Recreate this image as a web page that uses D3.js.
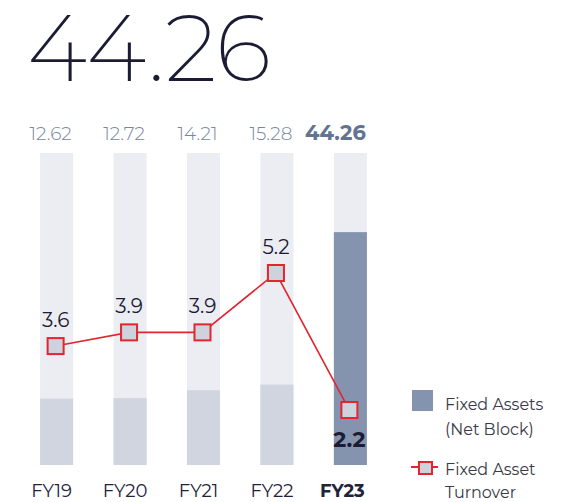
<!DOCTYPE html>
<html><head><meta charset="utf-8">
<script src="https://cdn.jsdelivr.net/npm/d3@7"></script>
<style>html,body{margin:0;padding:0;background:#fff;}svg{display:block;}</style>
</head><body>
<svg id="c" width="563" height="502"></svg>
<script>
const categories = ["FY19","FY20","FY21","FY22","FY23"];
const fixedAssets = [12.62, 12.72, 14.21, 15.28, 44.26];
const turnover = [3.6, 3.9, 3.9, 5.2, 2.2];
const headline = "44.26";

const svg = d3.select("#c");
const font = "Montserrat, Inter, 'Noto Sans', sans-serif";
const last = categories.length - 1;

const x = d3.scaleBand().domain(categories).range([21, 386]).paddingInner(0.55).paddingOuter(0.26);
const yBar = d3.scaleLinear().domain([0, 59.3]).range([465, 153]);
const yLine = d3.scaleLinear().domain([0, 5.2]).range([510.5, 273]);

svg.append("text").attr("x", 27).attr("y", 81).attr("font-family", font)
  .attr("font-weight", 200).attr("font-size", 93).attr("fill", "#1b1c33")
  .attr("letter-spacing", -1).text(headline);

// background bars
svg.selectAll("rect.bg").data(categories).join("rect")
  .attr("x", d => x(d)).attr("width", x.bandwidth())
  .attr("y", yBar(59.3)).attr("height", yBar(0) - yBar(59.3)).attr("fill", "#ecedf2");

svg.selectAll("rect.fg").data(fixedAssets).join("rect")
  .attr("x", (d, i) => x(categories[i])).attr("width", x.bandwidth())
  .attr("y", d => yBar(d)).attr("height", d => yBar(0) - yBar(d))
  .attr("fill", (d, i) => i === last ? "#8494ae" : "#d0d5e0");

// top value labels
svg.selectAll("text.top").data(fixedAssets).join("text")
  .attr("x", (d, i) => x(categories[i]) + x.bandwidth() / 2 + (i === last ? -15 : -6)).attr("y", 140)
  .attr("text-anchor", "middle").attr("font-family", font)
  .attr("font-weight", (d, i) => i === last ? 700 : 300)
  .attr("font-size", (d, i) => i === last ? 21 : 18.5)
  .attr("fill", (d, i) => i === last ? "#62748f" : "#7687a2")
  .text(d => d.toFixed(2));

// x labels
svg.selectAll("text.xl").data(categories).join("text")
  .attr("x", (d, i) => x(d) + x.bandwidth() / 2 + (i === last ? -8 : -5)).attr("y", 497)
  .attr("text-anchor", "middle").attr("font-family", font)
  .attr("font-weight", (d, i) => i === last ? 700 : 400).attr("font-size", 18)
  .attr("fill", "#22223a").text(d => d);

// line
const pts = turnover.map((v, i) => [x(categories[i]) + x.bandwidth() / 2 - 1, yLine(v)]);
svg.append("path").attr("d", d3.line()(pts)).attr("fill", "none")
  .attr("stroke", "#e0262f").attr("stroke-width", 1.6);
svg.selectAll("rect.mk").data(pts).join("rect")
  .attr("x", d => d[0] - 8).attr("y", d => d[1] - 8).attr("width", 16).attr("height", 16)
  .attr("fill", "#cdd2dc").attr("stroke", "#e0262f").attr("stroke-width", 2);

svg.selectAll("text.lv").data(turnover).join("text")
  .attr("x", (d, i) => pts[i][0]).attr("y", (d, i) => i === last ? pts[i][1] + 37 : pts[i][1] - 19)
  .attr("text-anchor", "middle").attr("font-family", font)
  .attr("font-weight", (d, i) => i === last ? 700 : 400)
  .attr("font-size", (d, i) => i === last ? 22 : 20)
  .attr("fill", "#1b1c33").text(d => d.toFixed(1));

// legend
const lg = svg.append("g");
const lt = (t, y) => lg.append("text").attr("x", 445).attr("y", y).attr("font-family", font)
  .attr("font-size", 16).attr("fill", "#3a3a48").text(t);
lg.append("rect").attr("x", 412).attr("y", 390).attr("width", 21).attr("height", 21).attr("fill", "#8494ae");
lt("Fixed Assets", 410);
lt("(Net Block)", 435);
lg.append("line").attr("x1", 411).attr("x2", 438).attr("y1", 467).attr("y2", 467).attr("stroke", "#e0262f").attr("stroke-width", 2);
lg.append("rect").attr("x", 419).attr("y", 462).attr("width", 13).attr("height", 12).attr("fill", "#cdd2dc").attr("stroke", "#e0262f").attr("stroke-width", 2);
lt("Fixed Asset", 475);
lt("Turnover", 498);
</script>
</body></html>
